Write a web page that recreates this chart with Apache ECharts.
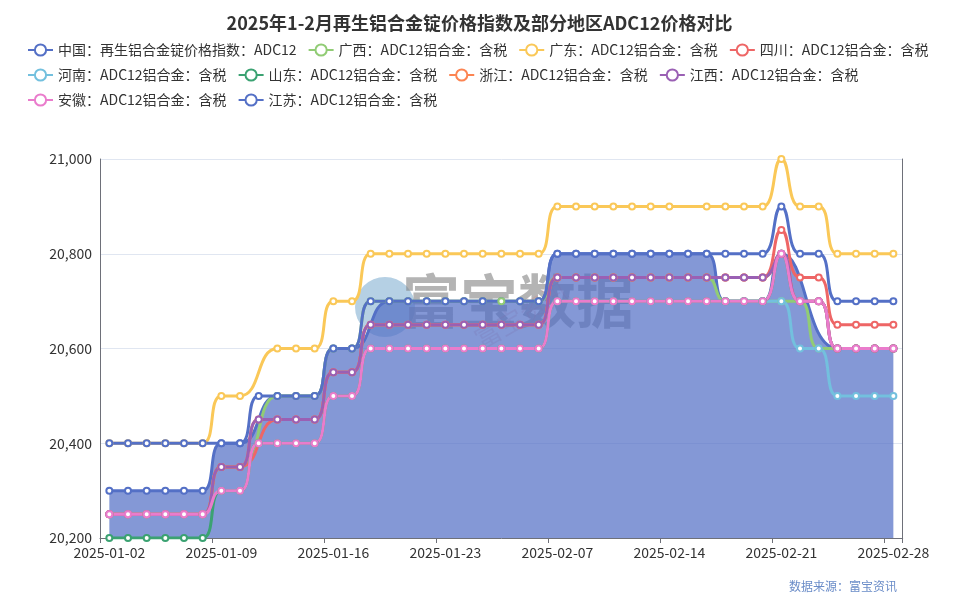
<!DOCTYPE html>
<html>
<head>
<meta charset="utf-8">
<script src="https://cdn.jsdelivr.net/npm/echarts@6/dist/echarts.min.js"></script>
<style>html,body{margin:0;padding:0;background:#fff;}#c{width:959px;height:600px;}</style>
</head>
<body>
<div id="c"></div>
<script>
var dates = ['2025-01-02','2025-01-03','2025-01-04','2025-01-06','2025-01-07','2025-01-08','2025-01-09','2025-01-10','2025-01-11','2025-01-13','2025-01-14','2025-01-15','2025-01-16','2025-01-17','2025-01-18','2025-01-20','2025-01-21','2025-01-22','2025-01-23','2025-01-24','2025-01-25','2025-01-27','2025-02-05','2025-02-06','2025-02-07','2025-02-08','2025-02-10','2025-02-11','2025-02-12','2025-02-13','2025-02-14','2025-02-15','2025-02-17','2025-02-18','2025-02-19','2025-02-20','2025-02-21','2025-02-22','2025-02-24','2025-02-25','2025-02-26','2025-02-27','2025-02-28'];

var seriesNames = ['中国：再生铝合金锭价格指数：ADC12','广西：ADC12铝合金：含税','广东：ADC12铝合金：含税','四川：ADC12铝合金：含税','河南：ADC12铝合金：含税','山东：ADC12铝合金：含税','浙江：ADC12铝合金：含税','江西：ADC12铝合金：含税','安徽：ADC12铝合金：含税','江苏：ADC12铝合金：含税'];

var chinaIndex = [20300,20300,20300,20300,20300,20300,20400,20400,null,20500,20500,20500,20600,20600,null,20700,20700,20700,20700,20700,20700,20700,20700,20700,20800,20800,20800,20800,20800,20800,20800,20800,20800,20700,20700,20700,20800,null,null,20600,20600,20600,20600];
var guangxi = [20250,20250,20250,20250,20250,20250,20350,20350,null,20500,20500,20500,20600,20600,20700,20700,20700,20700,20700,20700,20700,20700,20700,20700,20750,20750,20750,20750,20750,20750,20750,20750,20750,20700,20700,20700,20700,20700,20600,20600,20600,20600,20600];
var guangdong = [20400,20400,20400,20400,20400,20400,20500,20500,null,20600,20600,20600,20700,20700,20800,20800,20800,20800,20800,20800,20800,20800,20800,20800,20900,20900,20900,20900,20900,20900,20900,null,20900,20900,20900,20900,21000,20900,20900,20800,20800,20800,20800];
var sichuan = [20250,20250,20250,20250,20250,20250,20350,20350,null,20450,20450,20450,20550,20550,20650,20650,20650,20650,20650,20650,20650,20650,20650,20650,20750,20750,20750,20750,20750,20750,20750,20750,20750,20750,20750,20750,20850,20750,20750,20650,20650,20650,20650];
var henan = [20250,20250,20250,20250,20250,20250,20300,20300,20400,20400,20400,20400,20500,20500,20600,20600,20600,20600,20600,20600,20600,20600,20600,20600,20700,20700,20700,20700,20700,20700,20700,20700,20700,20700,20700,20700,20700,20600,20600,20500,20500,20500,20500];
var shandong = [20200,20200,20200,20200,20200,20200,20300,20300,20400,20400,20400,20400,20500,20500,20600,20600,20600,20600,20600,20600,20600,20600,20600,20600,20700,20700,20700,20700,20700,20700,20700,20700,20700,20700,20700,20700,20800,20700,20700,20600,20600,20600,20600];
var zhejiang = [20250,20250,20250,20250,20250,20250,20350,20350,20450,20450,20450,20450,20550,20550,20650,20650,20650,20650,20650,20650,20650,20650,20650,20650,20750,20750,20750,20750,20750,20750,20750,20750,20750,20750,20750,20750,20800,20700,20700,20600,20600,20600,20600];
var jiangxi = [20250,20250,20250,20250,20250,20250,20350,20350,20450,20450,20450,20450,20550,20550,20650,20650,20650,20650,20650,20650,20650,20650,20650,20650,20750,20750,20750,20750,20750,20750,20750,20750,20750,20750,20750,20750,20800,20700,20700,20600,20600,20600,20600];
var anhui = [20250,20250,20250,20250,20250,20250,20300,20300,20400,20400,20400,20400,20500,20500,20600,20600,20600,20600,20600,20600,20600,20600,20600,20600,20700,20700,20700,20700,20700,20700,20700,20700,20700,20700,20700,20700,20800,20700,20700,20600,20600,20600,20600];
var jiangsu = [20400,20400,20400,20400,20400,20400,20400,20400,20500,20500,20500,20500,20600,20600,20700,20700,20700,20700,20700,20700,20700,null,20700,20700,20800,20800,20800,20800,20800,20800,20800,20800,20800,20800,20800,20800,20900,20800,20800,20700,20700,20700,20700];

var yTicks = [20200, 21000, 200];
var colors = ['#5470c6','#91cc75','#fac858','#ee6666','#73c0de','#3ba272','#fc8452','#9a60b4','#ea7ccc','#5470c6'];
var allData = [chinaIndex, guangxi, guangdong, sichuan, henan, shandong, zhejiang, jiangxi, anhui, jiangsu];

var FONT = '"Noto Sans CJK SC", "Noto Sans", sans-serif';
var chart = echarts.init(document.getElementById('c'), null, {renderer: 'canvas'});

var series = allData.map(function (d, i) {
  var s = {
    name: seriesNames[i],
    type: 'line',
    data: d,
    smooth: true,
    connectNulls: true,
    showSymbol: true,
    showAllSymbol: true,
    symbol: 'emptyCircle',
    symbolSize: 6,
    lineStyle: {width: 3, color: colors[i]},
    itemStyle: {color: colors[i], borderWidth: 2},
    z: 3
  };
  if (i === 0) {
    s.areaStyle = {color: '#5470c6', opacity: 0.72};
  }
  return s;
});

var option = {
  color: colors,
  textStyle: {fontFamily: FONT},
  title: {
    text: '2025年1-2月再生铝合金锭价格指数及部分地区ADC12价格对比',
    left: 'center',
    top: 9,
    textStyle: {fontSize: 18, fontWeight: 'bold', color: '#333', fontFamily: FONT}
  },
  legend: {
    left: 22,
    right: 14,
    top: 38,
    itemGap: 11,
    itemWidth: 25,
    itemHeight: 14,
    textStyle: {fontSize: 14, color: '#333', fontFamily: FONT},
    data: seriesNames
  },
  grid: {left: 100, right: 56.3, top: 159, bottom: 62, containLabel: false},
  xAxis: {
    type: 'category',
    data: dates,
    boundaryGap: true,
    axisLine: {show: true, lineStyle: {color: '#6e7079'}},
    axisTick: {show: true, interval: 5},
    axisLabel: {interval: 5, fontSize: 14, color: '#333', fontFamily: FONT}
  },
  yAxis: [{
    type: 'value',
    min: yTicks[0],
    max: yTicks[1],
    interval: yTicks[2],
    axisLine: {show: true, lineStyle: {color: '#6e7079'}},
    axisTick: {show: false},
    axisLabel: {fontSize: 14, color: '#333', fontFamily: FONT, formatter: function (v) { return v.toLocaleString('en-US'); }},
    splitLine: {lineStyle: {color: '#e0e6f1'}}
  }, {
    type: 'value',
    position: 'right',
    min: yTicks[0],
    max: yTicks[1],
    interval: yTicks[2],
    axisLine: {show: true, lineStyle: {color: '#6e7079'}},
    axisTick: {show: false},
    axisLabel: {show: false},
    splitLine: {show: false}
  }],
  graphic: [
    {type: 'circle', shape: {cx: 385, cy: 307, r: 30}, style: {fill: 'rgba(120,170,205,0.55)'}, silent: true, z: 0},
    {type: 'text', left: 402, top: 272, silent: true, z: 0,
      style: {text: '富宝数据', fontSize: 58, fontWeight: 'bold', fill: 'rgba(130,130,130,0.6)', fontFamily: FONT}},
    {type: 'text', x: 470, y: 330, rotation: Math.PI / 6, silent: true, z: 0,
      style: {text: '富宝资讯', fontSize: 26, fill: 'rgba(220,120,120,0.25)', fontFamily: FONT}},
    {type: 'text', left: 789, top: 580, silent: true,
      style: {text: '数据来源：富宝资讯', fontSize: 12, fill: '#6a8cc8', fontFamily: FONT}}
  ],
  series: series
};
chart.setOption(option);
</script>
</body>
</html>
